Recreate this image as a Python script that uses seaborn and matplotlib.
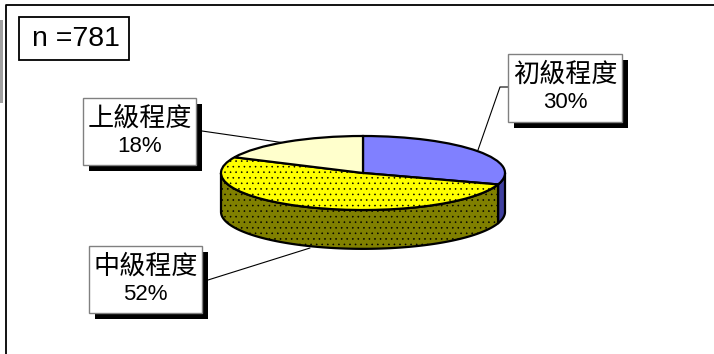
import matplotlib
matplotlib.use("Agg")
import matplotlib.pyplot as plt
from matplotlib.patches import Rectangle
import numpy as np
import seaborn as sns

categories = ["初級程度", "中級程度", "上級程度"]
shares = [30, 52, 18]
top_colors = ["#8080FF", "#FFFF00", "#FFFFCC"]
side_colors = ["#4040A0", "#808000", "#808066"]
top_hatches = ["", "...", ""]
n_label = "n =781"

W, H = 714, 354
DEPTH = 1.05  # wall height, in units of the vertical radius

sns.set_theme(style="white")
plt.rcParams["font.family"] = ["Liberation Sans", "Noto Sans CJK TC"]
plt.rcParams["hatch.linewidth"] = 0.4

fig = plt.figure(figsize=(W / 100, H / 100), dpi=100)

# overlay in pixel coordinates for frame, boxes and leader lines
bg = fig.add_axes([0, 0, 1, 1])
bg.set_xlim(0, W)
bg.set_ylim(H, 0)
bg.axis("off")
bg.plot([6, 6, W], [H, 5, 5], color="black", lw=1.3)
bg.add_patch(Rectangle((0, 20), 3, 83, color="#a0a0a0", lw=0))
bg.plot([202, 285], [131, 143], color="black", lw=0.8)
bg.plot([508, 500, 478], [87, 87, 150], color="black", lw=0.8)
bg.plot([208, 310], [280, 248], color="black", lw=0.8)

# pie axes: unit circle stretched to the ellipse on the picture
cx, cy, rx, ry = 363, 173, 142, 37
ax = fig.add_axes([(cx - rx) / W, 1 - (cy + ry) / H, 2 * rx / W, 2 * ry / H])
wedges, _ = ax.pie(shares, colors=top_colors, startangle=90, counterclock=False,
                   wedgeprops=dict(edgecolor="black", linewidth=1.6))
for w, h in zip(wedges, top_hatches):
    w.set_hatch(h)
ax.set_aspect("auto")
ax.set_xlim(-1, 1)
ax.set_ylim(-1, 1)
ax.patch.set_alpha(0)

# side wall, built from the same shares
start = 90.0
for share, color, hatch in zip(shares, side_colors, top_hatches):
    end = start - share * 3.6
    lo, hi = max(end, -180.0), min(start, 0.0)
    if hi > lo:
        t = np.radians(np.linspace(hi, lo, 120))
        ax.fill_between(np.cos(t), np.sin(t), np.sin(t) - DEPTH, facecolor=color,
                        edgecolor="black", linewidth=1.6, hatch=hatch,
                        clip_on=False, zorder=0.5)
    start = end


def callout(x0, y0, x1, y1, name, pct):
    bg2.add_patch(Rectangle((x0 + 5.5, y0 + 5.5), x1 - x0, y1 - y0, color="black", lw=0))
    bg2.add_patch(Rectangle((x0, y0), x1 - x0, y1 - y0, facecolor="white",
                            edgecolor="#808080", lw=1))
    mid = (x0 + x1) / 2
    bg2.text(mid, y0 + 20, name, ha="center", va="center", fontsize=18.8, color="black")
    bg2.text(mid, y0 + 48, pct, ha="center", va="center", fontsize=16, color="black")


bg2 = fig.add_axes([0, 0, 1, 1])
bg2.set_xlim(0, W)
bg2.set_ylim(H, 0)
bg2.axis("off")
boxes = [(508, 54, 622, 122), (89, 246, 202, 313), (83, 98, 196, 165)]
for b, name, s in zip(boxes, categories, shares):
    callout(*b, name, f"{s}%")

bg2.add_patch(Rectangle((18.5, 17), 110.5, 43, facecolor="white", edgecolor="black", lw=1.3))
bg2.text(76, 39, n_label, ha="center", va="center", fontsize=20.5, color="black")

fig.savefig("out.png", dpi=100)
plt.close(fig)
